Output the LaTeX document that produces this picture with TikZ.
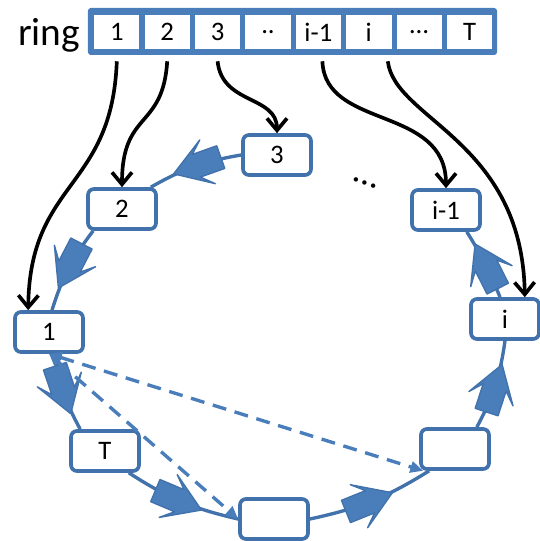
\documentclass[tikz,border=0pt]{standalone}
\usepackage{fontspec}
\setmainfont{Carlito}
\usepackage{tikz}
\usetikzlibrary{arrows.meta,decorations.markings}
\definecolor{ringfill}{RGB}{74,126,187}
\definecolor{ringline}{RGB}{66,114,172}
\newcommand{\boxfont}{\fontsize{19}{22}\selectfont}

\begin{document}
\begin{tikzpicture}[>=stealth,
  cellnode/.style={fill=white, minimum width=1.135cm, minimum height=0.85cm, inner sep=0pt, font=\boxfont},
  ringnode/.style={draw=ringline, fill=white, line width=2.6pt, rounded corners=0.15cm, minimum width=1.7cm, minimum height=1cm, inner sep=0pt, font=\boxfont},
  maparrow/.style={-{Straight Barb[length=0.3cm,width=0.5cm]}, line width=2.6pt, black},
  ringedge/.style={draw=ringline, line width=2.4pt, postaction={decorate},
    decoration={markings, mark=at position 0.5 with {\filldraw[draw=ringline, fill=ringfill, line width=1pt, line join=round] (-0.7,-0.3) -- (-0.05,-0.3) -- (-0.35,-0.58) -- (0.55,0) -- (-0.35,0.58) -- (-0.05,0.3) -- (-0.7,0.3) -- cycle;}}},
  jumpedge/.style={{Triangle[length=0.32cm,width=0.28cm]}-{Triangle[length=0.32cm,width=0.28cm]}, draw=ringfill, line width=2.4pt, dash pattern=on 0.35cm off 0.22cm}]
\useasboundingbox (0,0) rectangle (13.5,13.525);

\node[font=\fontsize{28}{32}\selectfont] (ringlabel) at (1.225,12.65) {ring};
\fill[ringfill, rounded corners=2pt] (2.2,12.15) rectangle (12.425,13.325);
\node[cellnode] (c1) at (2.92,12.725) {1};
\node[cellnode] (c2) at (4.18,12.725) {2};
\node[cellnode] (c3) at (5.44,12.725) {3};
\node[cellnode] (c4) at (6.70,12.725) {..};
\node[cellnode] (c5) at (7.96,12.725) {i-1};
\node[cellnode] (c6) at (9.22,12.725) {i};
\node[cellnode] (c7) at (10.48,12.725) {…};
\node[cellnode] (c8) at (11.74,12.725) {T};

\node[ringnode] (n3) at (6.925,9.65) {3};
\node[ringnode] (n2) at (3.05,8.3) {2};
\node[ringnode] (n1) at (1.225,5.225) {1};
\node[ringnode] (nT) at (2.625,2.25) {T};
\node[ringnode] (nb) at (6.85,0.55) {};
\node[ringnode] (nr) at (11.375,2.3) {};
\node[ringnode] (ni) at (12.625,5.55) {i};
\node[ringnode] (ni1) at (11.15,8.275) {i-1};
\node[font=\fontsize{26}{30}\selectfont, rotate=-20] (gap) at (9.125,8.95) {…};

\draw[ringedge] (n3.west) to[bend right=10] ([xshift=-0.175cm]n2.north east);
\draw[ringedge] ([xshift=0.175cm]n2.south west) to[bend right=10] ([xshift=0.075cm]n1.north);
\draw[ringedge] ([xshift=0.15cm]n1.south) to[bend right=10] ([xshift=0.275cm]nT.north west);
\draw[ringedge] ([xshift=-0.3cm]nT.south east) to[bend right=10] (nb.west);
\draw[ringedge] (nb.east) to[bend right=10] ([xshift=0.25cm]nr.south west);
\draw[ringedge] ([xshift=-0.35cm]nr.north east) to[bend right=10] (ni.south);
\draw[ringedge] ([xshift=-0.125cm]ni.north) to[bend right=5] ([xshift=-0.375cm]ni1.south east);

\draw[jumpedge] (n1.south) -- (nb.west);
\draw[jumpedge] (n1.south) -- ([xshift=0.1cm]nr.south west);

\draw[maparrow] ([yshift=-0.3cm]c1.south) .. controls (2.8,8.775) and (0.75,9.025) .. ([xshift=0.375cm]n1.north west);
\draw[maparrow] ([yshift=-0.3cm]c2.south) .. controls (4.075,10.275) and (3.05,10.775) .. (n2.north);
\draw[maparrow] ([yshift=-0.3cm]c3.south) .. controls (5.55,10.9) and (6.925,11.15) .. (n3.north);
\draw[maparrow] ([xshift=0.1cm,yshift=-0.3cm]c5.south) .. controls (8.125,10.275) and (11.15,10.9) .. (ni1.north);
\draw[maparrow] ([xshift=0.475cm,yshift=-0.3cm]c6.south) .. controls (9.875,10.525) and (13.05,10.025) .. ([xshift=-0.4cm]ni.north east);
\end{tikzpicture}
\end{document}
